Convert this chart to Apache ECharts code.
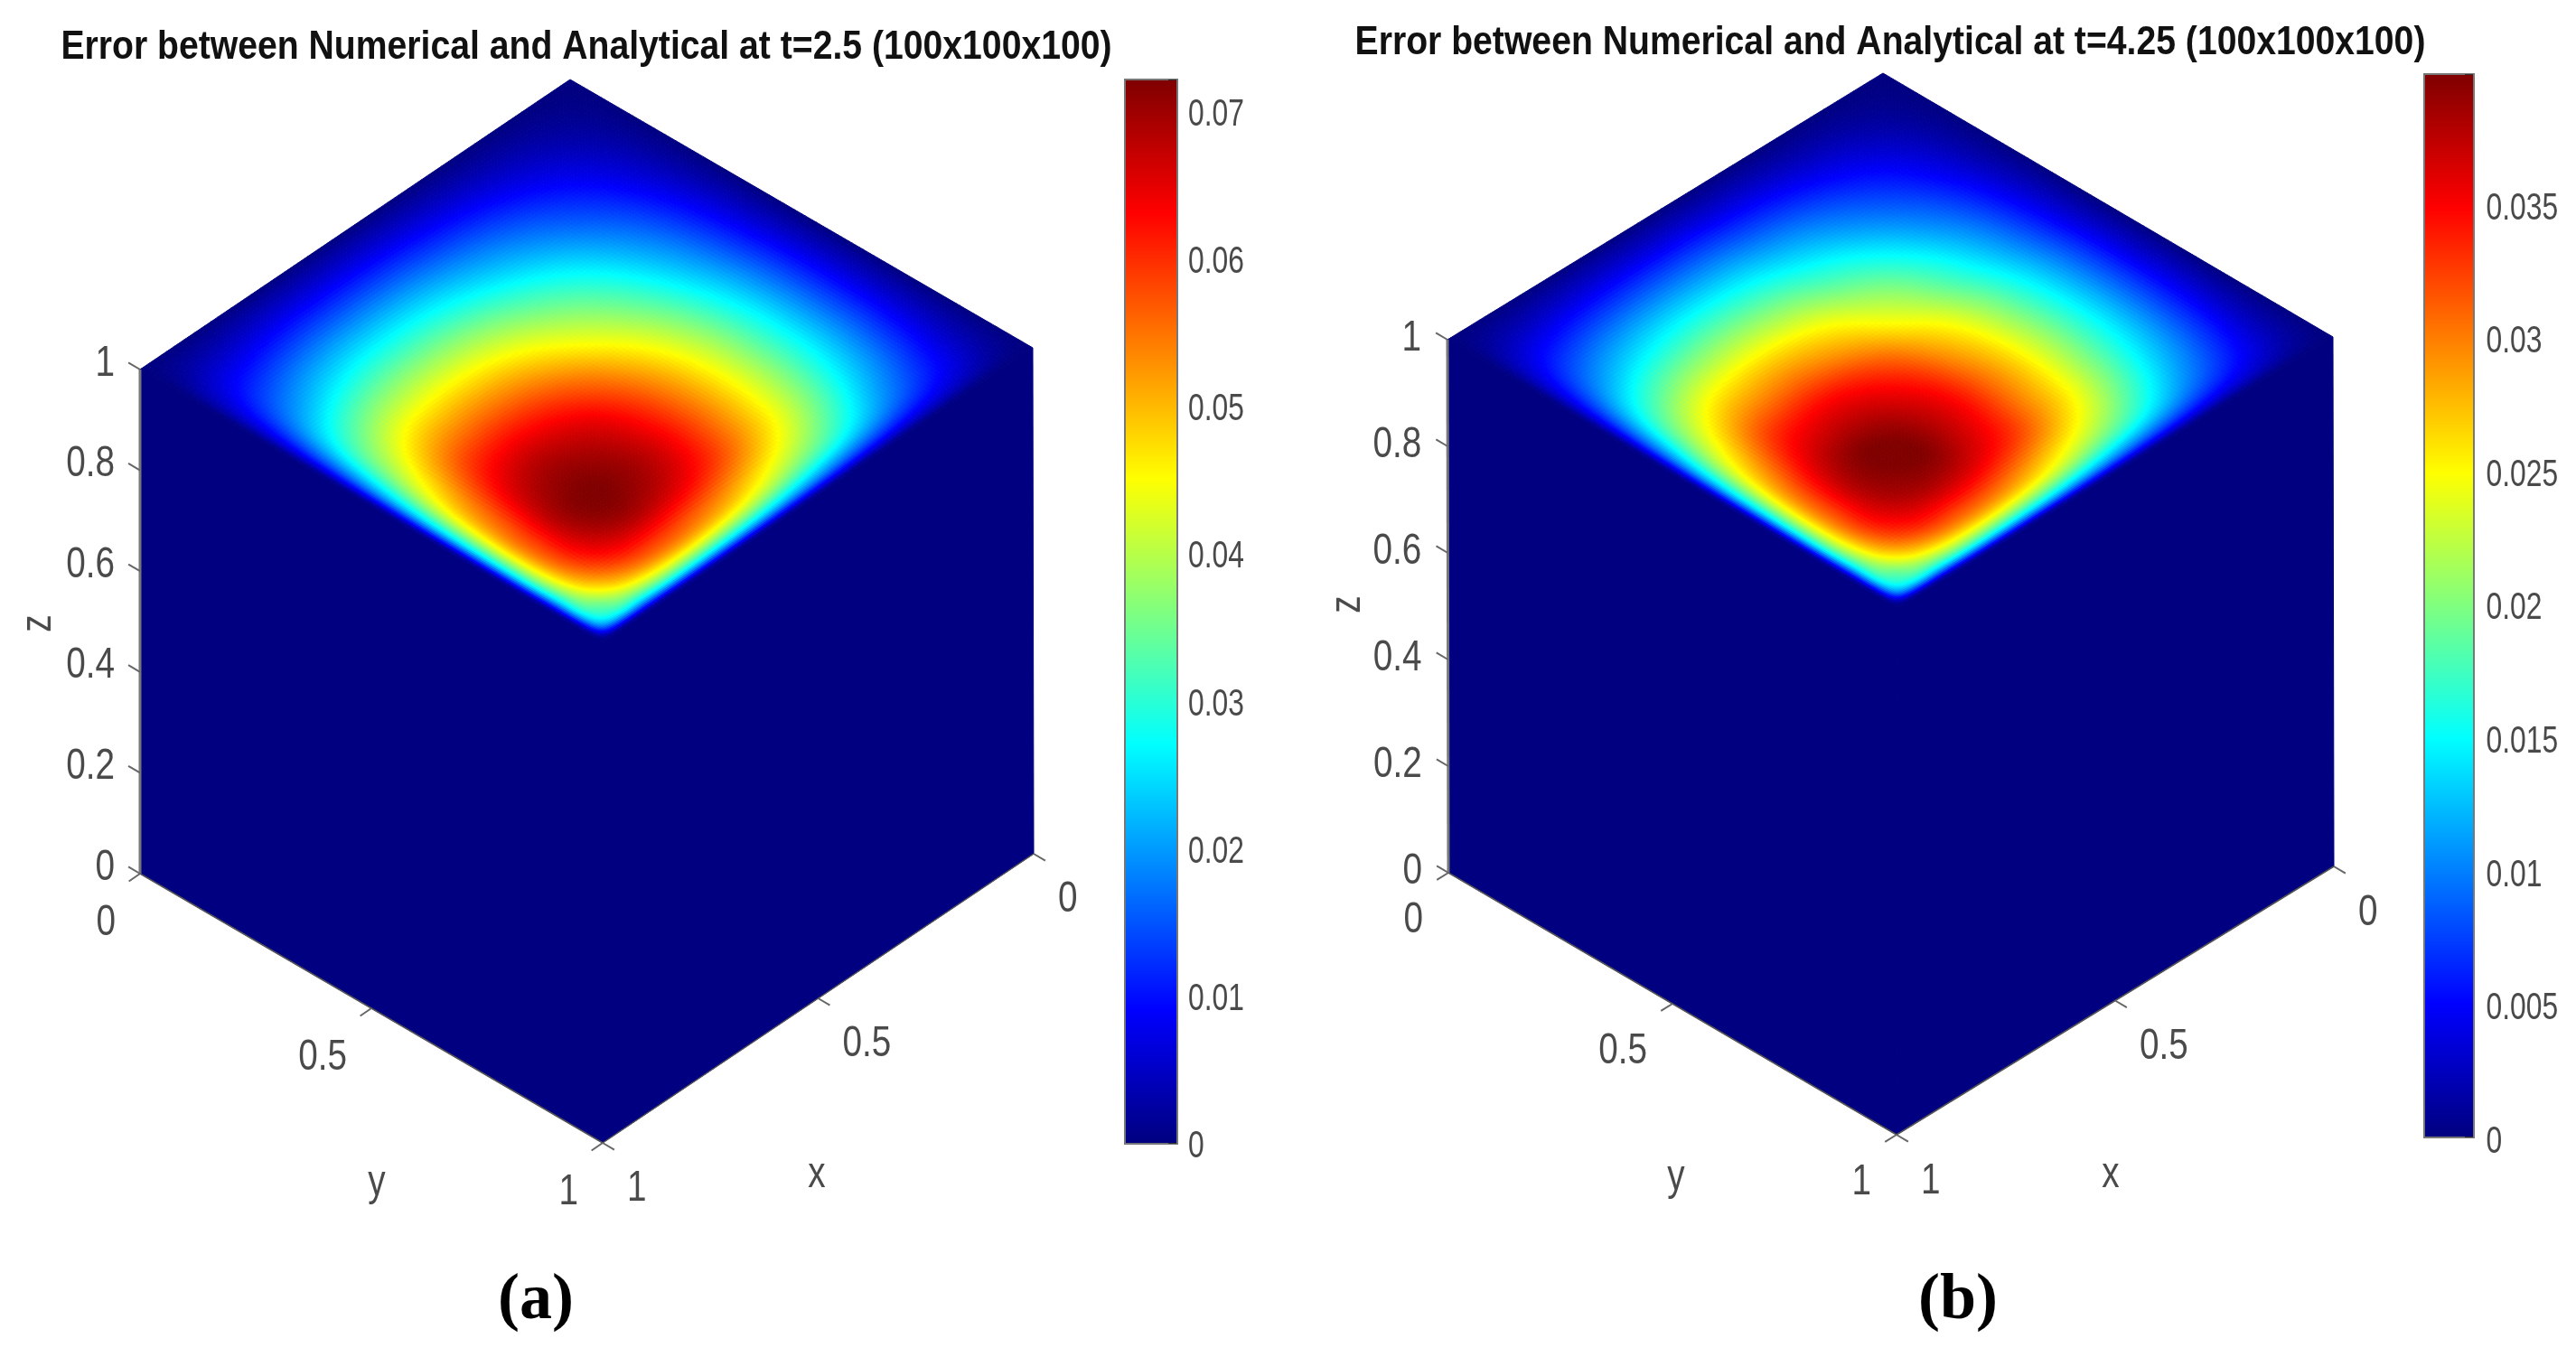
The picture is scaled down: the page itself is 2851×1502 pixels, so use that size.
<!DOCTYPE html>
<html><head><meta charset="utf-8">
<style>html,body{margin:0;padding:0;background:#fff}#c{width:2851px;height:1502px;filter:blur(0.7px)}</style>
<script src="https://cdn.jsdelivr.net/npm/echarts@6/dist/echarts.min.js"></script>
</head><body><div id="c"></div>
<script>
// ---- data ----
const titleA = 'Error between Numerical and Analytical at t=2.5 (100x100x100)';
const titleB = 'Error between Numerical and Analytical at t=4.25 (100x100x100)';
const captionA = '(a)', captionB = '(b)';
const zTicks = [0, 0.2, 0.4, 0.6, 0.8, 1];
const xyTicks = [0, 0.5, 1];
const maxA = 0.0721, maxB = 0.0398;
const stepA = 0.01, stepB = 0.005;
const barTicksA = [0, 0.01, 0.02, 0.03, 0.04, 0.05, 0.06, 0.07];
const barTicksB = [0, 0.005, 0.01, 0.015, 0.02, 0.025, 0.03, 0.035];
const sideFaceValue = 0;
const valueUnit = 1e-4;
// sampling positions on the top face (z = 1), both x and y
const nodes = [0,.06,.12,.19,.26,.33,.40,.47,.54,.61,.68,.75,.82,.88,.93,.97,1];
// top-face error, in units of valueUnit
const errorA = [
[0,0,0,0,0,0,0,0,0,0,0,0,0,0,0,0,0],
[0,9,18,28,36,44,51,56,60,62,61,58,51,42,33,18,0],
[0,18,36,57,75,93,107,118,128,132,131,126,112,94,74,42,0],
[0,28,57,90,120,148,172,191,208,217,217,210,190,160,124,70,0],
[0,36,75,120,159,198,231,259,283,298,300,292,267,228,178,98,0],
[0,44,93,148,198,247,290,327,360,381,386,379,355,308,240,130,0],
[0,51,107,172,231,290,343,389,431,458,468,463,440,385,300,162,0],
[0,56,118,191,259,327,389,444,494,529,544,541,515,450,350,195,0],
[0,60,128,208,283,360,431,494,552,594,615,615,585,505,403,228,0],
[0,62,132,217,298,381,458,529,594,644,669,674,638,552,450,258,0],
[0,61,131,217,300,386,468,544,615,669,700,708,674,585,482,278,0],
[0,58,126,210,292,379,463,541,615,674,708,721,690,605,500,292,0],
[0,51,112,190,267,355,440,515,585,638,674,690,664,600,490,296,0],
[0,42,94,160,228,308,385,450,505,552,585,605,600,545,445,275,0],
[0,33,74,124,178,240,300,350,403,450,482,500,490,445,362,265,0],
[0,18,42,70,98,130,162,195,228,258,278,292,296,275,265,194,0],
[0,0,0,0,0,0,0,0,0,0,0,0,0,0,0,0,0]];
const errorB = [
[0,0,0,0,0,0,0,0,0,0,0,0,0,0,0,0,0],
[0,5,10,16,20,25,29,31,34,34,34,32,28,23,18,10,0],
[0,10,21,33,43,53,61,67,73,75,74,70,63,53,41,23,0],
[0,16,33,52,68,84,98,108,118,122,122,117,106,90,69,39,0],
[0,20,43,68,90,111,131,146,160,167,168,162,148,127,98,54,0],
[0,25,53,84,111,139,164,183,203,213,216,210,196,170,132,72,0],
[0,29,61,98,131,164,195,219,244,258,263,258,244,213,165,90,0],
[0,31,67,108,146,183,219,248,277,295,304,299,285,249,193,108,0],
[0,34,73,118,160,203,244,277,311,334,345,341,324,279,222,126,0],
[0,34,75,122,167,213,258,295,334,359,373,372,352,305,246,142,0],
[0,34,74,122,168,216,263,304,345,373,393,396,372,325,263,153,0],
[0,32,70,117,162,210,258,299,341,372,396,394,377,332,271,161,0],
[0,28,63,106,148,196,244,285,324,352,372,377,363,330,266,163,0],
[0,23,53,90,127,170,213,249,279,305,325,332,330,300,242,152,0],
[0,18,41,69,98,132,165,193,222,246,263,271,266,242,198,146,0],
[0,10,23,39,54,72,90,108,126,142,153,161,163,152,146,107,0],
[0,0,0,0,0,0,0,0,0,0,0,0,0,0,0,0,0]];

// ---- styling / layout ----
const FONT = '"Liberation Sans",Arial,sans-serif';
const LABEL = '#4a4a4a', TICK = '#666';
const AXIS_LABEL = {size:49,sx:0.79}, BAR_LABEL = {size:43,sx:0.74}, TITLE_LABEL = {size:45,sx:0.87};
const jetStops = [[0,[0,0,127.5]],[.125,[0,0,255]],[.375,[0,255,255]],[.625,[255,255,0]],[.875,[255,0,0]],[1,[127.5,0,0]]];
function jet(t){
  t=Math.max(0,Math.min(1,t));
  for(let k=1;k<jetStops.length;k++){
    if(t<=jetStops[k][0]){
      const a=jetStops[k-1],b=jetStops[k],f=(t-a[0])/(b[0]-a[0]);
      return 'rgb('+a[1].map((c,i)=>Math.round(c+(b[1][i]-c)*f)).join(',')+')';
    }
  }
  return 'rgb(128,0,0)';
}
const panelA = {A:[631,88],L:[155,409],R:[1143,385],F:[667,711],
  A0:[631,646],L0:[155,967],R0:[1144,945],F0:[667,1265],
  zLab:[-28,-7],yLab:[-27,54],xLab:[27,50],zName:[42,690],yName:[417,1309],xName:[904,1300],
  matrix:errorA,max:maxA};
const panelB = {A:[2084,81],L:[1602,376],R:[2582,373],F:[2100,673],
  A0:[2084,669],L0:[1603,966],R0:[2583,959],F0:[2099,1256],
  zLab:[-29,-2],yLab:[-28,52],xLab:[27,51],zName:[1491,669],yName:[1855,1303],xName:[2336,1300],
  matrix:errorB,max:maxB};
function bilerp(A,L,R,F,x,y,k){
  return A[k]*(1-x)*(1-y)+L[k]*x*(1-y)+R[k]*(1-x)*y+F[k]*x*y;
}
function project(p,x,y,z){
  return [0,1].map(k=>z*bilerp(p.A,p.L,p.R,p.F,x,y,k)+(1-z)*bilerp(p.A0,p.L0,p.R0,p.F0,x,y,k));
}
function unit(a,b,len){const v=[b[0]-a[0],b[1]-a[1]],n=Math.hypot(v[0],v[1]);return [v[0]/n*len,v[1]/n*len];}

// smooth shading of a cell between its sampled nodes (render only)
function herm(vals,s){
  let k=0;while(k<nodes.length-2&&s>nodes[k+1])k++;
  const h=nodes[k+1]-nodes[k],t=(s-nodes[k])/h;
  const m0=k>0?(vals[k+1]-vals[k-1])/(nodes[k+1]-nodes[k-1]):(vals[k+1]-vals[k])/h;
  const m1=k<nodes.length-2?(vals[k+2]-vals[k])/(nodes[k+2]-nodes[k]):(vals[k+1]-vals[k])/h;
  const t2=t*t,t3=t2*t;
  return (2*t3-3*t2+1)*vals[k]+(t3-2*t2+t)*h*m0+(-2*t3+3*t2)*vals[k+1]+(t3-t2)*h*m1;
}
function shadeRow(M,sy){return M.map(r=>herm(r,sy));}
const SUB = 0.008;
function subCount(d){return Math.ceil(d/SUB)*(d<0.055?2:1);}

function textEl(text,x,y,align,st,color,weight,rot){
  return {type:'text',x,y,scaleX:st.sx,scaleY:1,rotation:rot||0,
    style:{text,x:0,y:0,align,verticalAlign:'middle',fill:color,fontSize:st.size,fontFamily:FONT,fontWeight:weight||'normal'}};
}
function topFaceSeries(p){
  const data=[];
  p.matrix.forEach((row,i)=>row.forEach((v,j)=>{if(i<16&&j<16)data.push([i,j,v*valueUnit]);}));
  return {type:'custom',xAxisIndex:0,yAxisIndex:0,coordinateSystem:'cartesian2d',silent:true,z:3,clip:false,
    data,dimensions:['i','j','v'],encode:{x:0,y:1},
    renderItem(params,api){
      const i=api.value(0),j=api.value(1),children=[];
      const x0=nodes[i],x1=nodes[i+1],y0=nodes[j],y1=nodes[j+1];
      const nx=subCount(x1-x0),ny=subCount(y1-y0);
      for(let b=0;b<ny;b++){
        const ya=y0+(y1-y0)*b/ny,yb=y0+(y1-y0)*(b+1)/ny;
        const col=shadeRow(p.matrix,(ya+yb)/2);
        for(let a=0;a<nx;a++){
          const xa=x0+(x1-x0)*a/nx,xb=x0+(x1-x0)*(a+1)/nx;
          const v=herm(col,(xa+xb)/2)*valueUnit;
          const c=jet(v/p.max);
          const pts=[[xa,ya],[xb,ya],[xb,yb],[xa,yb]].map(q=>api.coord(project(p,q[0],q[1],1)));
          children.push({type:'polygon',shape:{points:pts},style:{fill:c,stroke:c,lineWidth:1}});
        }
      }
      return {type:'group',children};
    }};
}
function sideFaceSeries(p){
  const faces=[[[1,0,1],[1,1,1],[1,1,0],[1,0,0]],[[1,1,1],[0,1,1],[0,1,0],[1,1,0]]];
  return {type:'custom',xAxisIndex:0,yAxisIndex:0,silent:true,z:2,clip:false,
    data:faces.map((f,k)=>[k,sideFaceValue]),
    renderItem(params,api){
      const f=faces[api.value(0)];
      const c=jet(api.value(1)/p.max);
      return {type:'polygon',shape:{points:f.map(q=>api.coord(project(p,q[0],q[1],q[2])))},style:{fill:c,stroke:c,lineWidth:1}};
    }};
}
function axisSeries(p,ticks,at,dir,lab,align,baseline){
  const last=at(ticks[ticks.length-1]);
  return {type:'custom',xAxisIndex:0,yAxisIndex:0,silent:true,z:4,clip:false,
    data:ticks.map(t=>[t]),
    renderItem(params,api){
      const t=api.value(0),a=api.coord(at(t));
      const children=[
        {type:'line',shape:{x1:a[0],y1:a[1],x2:a[0]+dir[0],y2:a[1]+dir[1]},style:{stroke:TICK,lineWidth:2}},
        textEl(String(t),a[0]+lab[0],a[1]+lab[1],align,AXIS_LABEL,LABEL)];
      if(params.dataIndex===0){
        const b=api.coord(last);
        children.push({type:'line',shape:{x1:a[0],y1:a[1],x2:b[0],y2:b[1]},style:{stroke:baseline.color,lineWidth:baseline.width}});
      }
      return {type:'group',children};
    }};
}
function textSeries(items){
  return {type:'custom',xAxisIndex:0,yAxisIndex:0,silent:true,z:4,clip:false,
    data:items.map(n=>[n.pos[0],n.pos[1]]),
    renderItem(params,api){
      const n=items[params.dataIndex];
      const a=api.coord([api.value(0),api.value(1)]);
      return textEl(n.text,a[0],a[1],'center',n.st,n.color,n.weight,n.rot);
    }};
}
function panelSeries(p){
  const outZ=unit(p.F,p.L,15),outY=unit(p.R,p.F,15),outX=unit(p.L,p.F,15);
  return [
    sideFaceSeries(p),topFaceSeries(p),
    axisSeries(p,zTicks,t=>project(p,1,0,t),outZ,p.zLab,'right',{color:'#777',width:3}),
    axisSeries(p,xyTicks,t=>project(p,1,t,0),outY,p.yLab,'right',{color:'#555',width:1.5}),
    axisSeries(p,xyTicks,t=>project(p,t,1,0),outX,p.xLab,'left',{color:'#555',width:1.5}),
    textSeries([{text:'z',pos:p.zName,rot:Math.PI/2,st:AXIS_LABEL,color:LABEL},
                {text:'y',pos:p.yName,st:AXIS_LABEL,color:LABEL},{text:'x',pos:p.xName,st:AXIS_LABEL,color:LABEL}])
  ];
}
function barGradient(){
  return new echarts.graphic.LinearGradient(0,1,0,0,jetStops.map(s=>({offset:s[0],color:jet(s[0])})));
}
function cbAxes(gridIndex,max,step){
  return {x:{type:'category',gridIndex,data:['err'],show:false},
    y:{type:'value',gridIndex,min:0,max,interval:step,position:'right',
      axisLine:{show:false},splitLine:{show:false},
      axisTick:{show:true,inside:true,length:9,lineStyle:{color:'#333',width:2}},
      axisLabel:{show:false}}};
}
const cbA=cbAxes(1,maxA,stepA),cbB=cbAxes(2,maxB,stepB);
function cbSeries(i,max){
  return {type:'bar',xAxisIndex:i,yAxisIndex:i,data:[max],barWidth:'100%',silent:true,
    itemStyle:{color:barGradient()},z:2};
}
function cbLabels(i,ticks,dx,dy){
  return {type:'custom',xAxisIndex:i,yAxisIndex:i,silent:true,z:4,clip:false,
    data:ticks.map(t=>['err',t]),encode:{x:0,y:1},
    renderItem(params,api){
      const a=api.coord(['err',api.value(1)]);
      return textEl(String(ticks[params.dataIndex]),a[0]+dx,a[1]+dy,'left',BAR_LABEL,LABEL);
    }};
}
const capStyle={fontFamily:'"Liberation Serif","DejaVu Serif",serif',fontWeight:'bold',fontSize:72,color:'#000'};
const option={
  animation:false,backgroundColor:'#fff',
  title:[
    {text:captionA,left:593,top:1404,textAlign:'center',textStyle:capStyle,padding:0},
    {text:captionB,left:2167,top:1404,textAlign:'center',textStyle:capStyle,padding:0}
  ],
  grid:[
    {left:0,top:0,width:2851,height:1502,show:false},
    {left:1246,top:89,width:56,height:1176,show:true,borderColor:'#777',borderWidth:4,backgroundColor:'transparent'},
    {left:2684,top:83,width:53,height:1175,show:true,borderColor:'#777',borderWidth:4,backgroundColor:'transparent'}
  ],
  xAxis:[{type:'value',gridIndex:0,min:0,max:2851,show:false},cbA.x,cbB.x],
  yAxis:[{type:'value',gridIndex:0,min:0,max:1502,inverse:true,show:false},cbA.y,cbB.y],
  series:[...panelSeries(panelA),...panelSeries(panelB),cbSeries(1,maxA),cbSeries(2,maxB),
    cbLabels(1,barTicksA,41,4),cbLabels(2,barTicksB,41,6),
    textSeries([{text:titleA,pos:[649,53],st:TITLE_LABEL,color:'#111',weight:'bold'},
                {text:titleB,pos:[2092,48],st:TITLE_LABEL,color:'#111',weight:'bold'}])]
};
const chart=echarts.init(document.getElementById('c'),null,{renderer:'canvas'});
chart.setOption(option);
</script></body></html>
